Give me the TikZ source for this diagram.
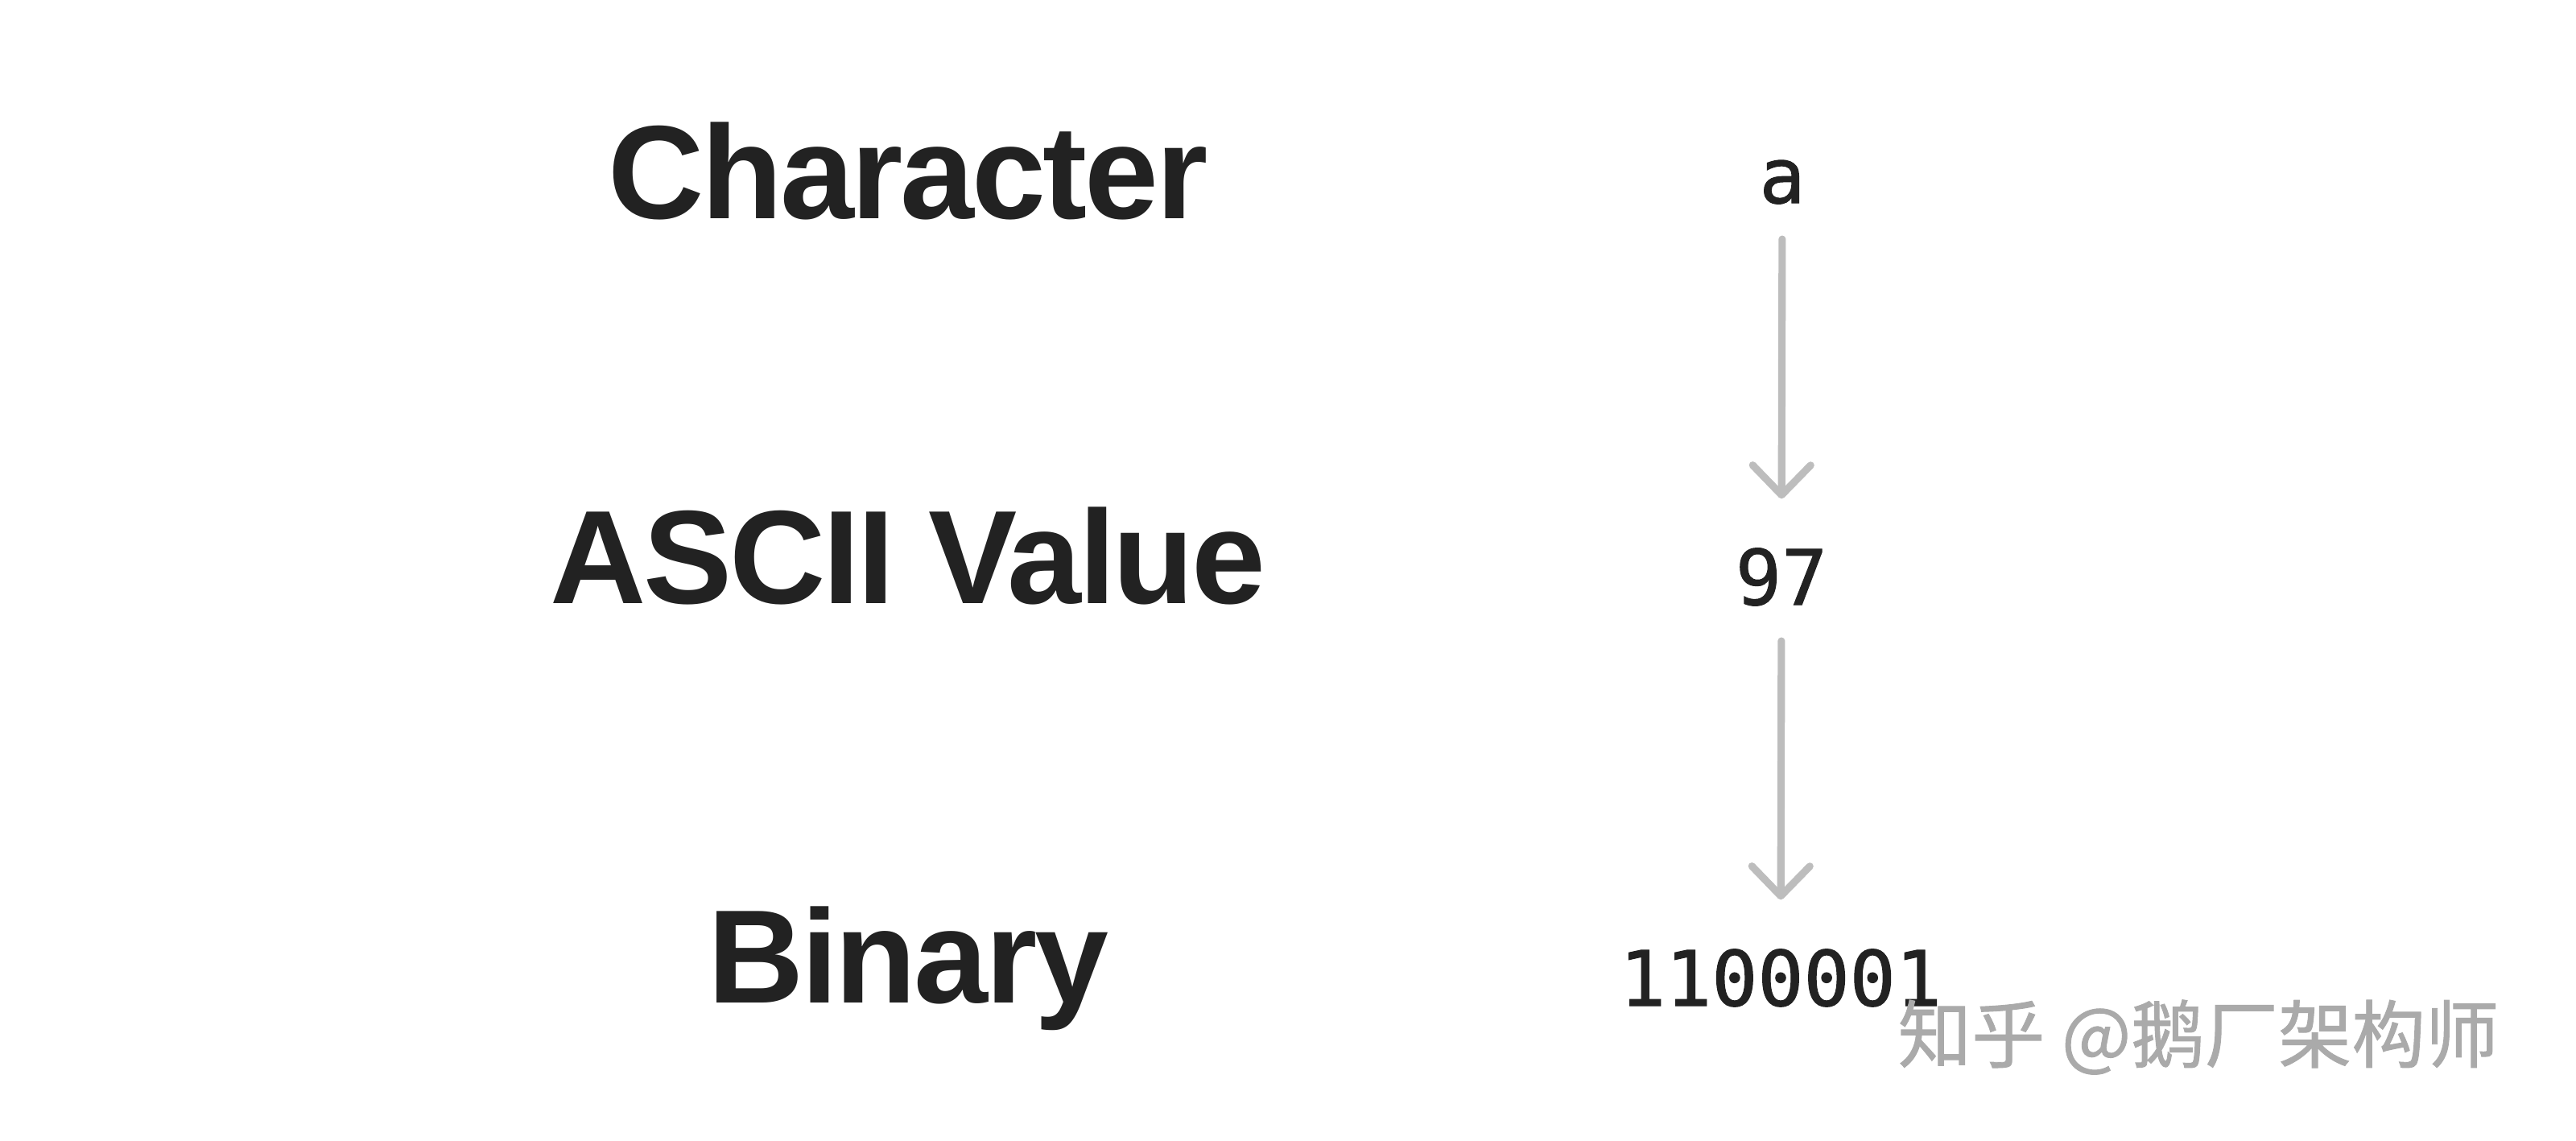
\documentclass[tikz,border=0pt]{standalone}
\usepackage{fontspec}
\setmainfont{Liberation Sans}
\setmonofont{DejaVu Sans Mono}[FakeBold=1.2]
\newfontfamily\cjk{Noto Sans CJK SC}[FakeBold=1]
\usetikzlibrary{arrows.meta}
\definecolor{ink}{HTML}{222222}
\definecolor{arrowgray}{HTML}{BDBDBD}
\definecolor{markgray}{HTML}{AAAAAA}
\tikzset{
	rowlabel/.style={anchor=base, inner sep=0pt, text=ink,
		font=\fontsize{47}{50}\selectfont\bfseries\addfontfeatures{LetterSpace=-2}},
	valuetext/.style={anchor=base, inner sep=0pt, text=ink, text height=0.69cm,
		font=\fontsize{27}{30}\selectfont\ttfamily},
	flow/.style={line width=2.6pt, arrowgray, line cap=round,
		-{Straight Barb[length=0.37cm, width=0.72cm, line cap=round, line join=round]},
		shorten <=0.43cm, shorten >=0.62cm},
}

\begin{document}
\begin{tikzpicture}
		\useasboundingbox (0,0) rectangle (32,-14.17);
		\node [rowlabel] (character) at (11.28,-2.71) {Character};
		\node [rowlabel] (ascii) at (11.28,-7.49) {ASCII Value};
		\node [rowlabel] (binary) at (11.28,-12.45) {Binary};
		\node [valuetext] (chara) at (22.14,-2.52) {a};
		\node [valuetext] (code) at (22.13,-7.51) {97};
		\node [valuetext] (bits) at (22.12,-12.49) {1100001};
		\draw [flow] (chara.south) -- (code.north);
		\draw [flow] (code.south) -- (bits.north);
		\node [markgray, inner sep=0pt, font=\fontsize{26}{28}\selectfont\cjk] (mark) at (27.31,-12.88) {知乎 @鹅厂架构师};
	\end{tikzpicture}
\end{document}
